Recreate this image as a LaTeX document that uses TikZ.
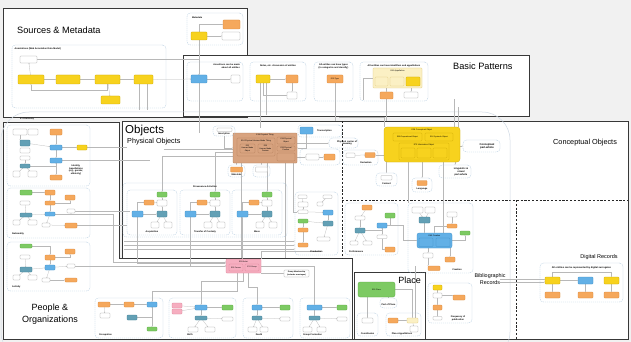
\documentclass[tikz,border=0pt]{standalone}
\usepackage{fontspec}
\setmainfont{Liberation Sans}
\usetikzlibrary{arrows.meta}
\pgfdeclarelayer{back}
\pgfdeclarelayer{lines}
\pgfsetlayers{back,lines,main}
\definecolor{cyel}{HTML}{F7D21E}\definecolor{cyelb}{HTML}{C9A400}
\definecolor{corg}{HTML}{F5A85C}\definecolor{corgb}{HTML}{D88738}
\definecolor{cblu}{HTML}{62B0E6}\definecolor{cblub}{HTML}{3C8CC4}
\definecolor{cteal}{HTML}{63A0B5}\definecolor{ctealb}{HTML}{437F93}
\definecolor{cgrn}{HTML}{7DCA63}\definecolor{cgrnb}{HTML}{58A641}
\definecolor{cpnk}{HTML}{F6AEC0}\definecolor{cpnkb}{HTML}{DB7F97}
\definecolor{cbrn}{HTML}{D8A37F}\definecolor{cbrnb}{HTML}{B07A55}
\definecolor{clyel}{HTML}{FBF0C4}\definecolor{clyelb}{HTML}{DCC575}
\definecolor{cwhb}{HTML}{9C9C9C}
\definecolor{cgrp}{HTML}{A5C2DA}
\definecolor{cframe}{HTML}{383838}
\definecolor{cline}{HTML}{B8B8B8}
\definecolor{cbg}{HTML}{F1F1F1}
\definecolor{ce1}{HTML}{D0DAE5}
\newcommand\mybox[8][]{\node[#2,minimum width={(#6)-(#4)},minimum height={(#7)-(#5)},#1] (#3) at ({((#4)+(#6))/2},{((#5)+(#7))/2}) {#8};}
\begin{document}
\begin{tikzpicture}[x=1pt,y=-1pt,
 bx/.style={rectangle,inner sep=0pt,outer sep=0pt,rounded corners=0.7pt,line width=0.25pt,font=\fontsize{1.9}{2.2}\selectfont,align=center},
 yb/.style={bx,fill=cyel,draw=cyelb},
 ob/.style={bx,fill=corg,draw=corgb},
 bb/.style={bx,fill=cblu,draw=cblub},
 tb/.style={bx,fill=cteal,draw=ctealb},
 gb/.style={bx,fill=cgrn,draw=cgrnb},
 pb/.style={bx,fill=cpnk,draw=cpnkb},
 brb/.style={bx,fill=cbrn,draw=cbrnb},
 lyb/.style={bx,fill=clyel,draw=clyelb},
 wb/.style={bx,fill=white,draw=cwhb},
 grp/.style={rectangle,inner sep=0pt,draw=cgrp,line width=0.3pt,dash pattern=on 1.2pt off 0.8pt,rounded corners=3.5pt},
 glab/.style={inner sep=0pt,font=\fontsize{2.3}{2.7}\selectfont\bfseries,align=center},
 btxt/.style={inner sep=0pt,font=\fontsize{2}{2.3}\selectfont,align=center},
 frame/.style={draw=cframe,line width=0.9pt,fill=white},
 divd/.style={draw=black!85,line width=0.8pt,dash pattern=on 2.2pt off 1.6pt},
 cn/.style={draw=cline,line width=0.25pt,-{Stealth[length=1.1pt,width=0.9pt]}},
 cnl/.style={draw=cline,line width=0.25pt},
 ttl/.style={inner sep=0pt,anchor=west}
]
\useasboundingbox (0,0) rectangle (631,342);
\begin{pgfonlayer}{back}
\fill[cbg] (0,0) rectangle (631,342);
\draw[frame] (3,8) rectangle (247,117);
\draw[frame] (183,55) rectangle (529,116);
\draw[frame] (122,121) rectangle (628,339);
\draw[frame] (3,122) -- (119.5,122) -- (119.5,258) -- (352,258) -- (352,339) -- (3,339) -- cycle;
\draw[frame] (354.5,272) rectangle (425,339);
\draw[divd] (342,121) -- (342,258);
\draw[divd] (342,200) -- (628,200);
\draw[divd] (516,200) -- (516,339);
\draw[draw=ce1,line width=0.5pt,rounded corners=28pt] (1,112) -- (510,112) -- (510,360) -- (1,360) -- cycle;
\end{pgfonlayer}

% ---------- titles ----------
\node[ttl,font=\fontsize{9.2}{11}\selectfont] (tSM) at (17,30) {Sources \& Metadata};
\node[ttl,font=\fontsize{9.2}{11}\selectfont] (tBP) at (453,66) {Basic Patterns};
\node[ttl,font=\fontsize{11.5}{13}\selectfont] (tOb) at (125,131) {Objects};
\node[ttl,font=\fontsize{7.2}{9}\selectfont] (tPO) at (127,141.5) {Physical Objects};
\node[ttl,font=\fontsize{7.3}{9}\selectfont] (tCO) at (553,143) {Conceptual Objects};
\node[inner sep=0pt,font=\fontsize{5.4}{6.6}\selectfont,align=center] (tBR) at (490,279) {Bibliographic\\Records};
\node[inner sep=0pt,font=\fontsize{5.5}{7}\selectfont] (tDR) at (599,257) {Digital Records};
\node[inner sep=0pt,font=\fontsize{9}{9}\selectfont] (tPl) at (409.5,280) {Place};
\node[inner sep=0pt,font=\fontsize{9}{11.5}\selectfont,align=center] (tPO2) at (50,314) {People \&\\Organizations};
\node[ttl,font=\fontsize{2}{2.3}\selectfont\bfseries] (tE1) at (20,118.5) {E1 CRM Entity};

% ---------- Sources & Metadata ----------
\mybox{grp}{gAnn}{12}{45}{166}{108}{}
\node[glab,anchor=west] (lAnn) at (14.5,49) {Annotations (Web Annotation Data Model)};
\mybox{wb}{aW1}{20}{56}{37}{63}{}
\mybox{yb}{aY1}{18}{75}{44}{84}{}
\mybox{yb}{aY2}{56}{75}{80}{84}{}
\mybox{yb}{aY3}{95}{75}{120}{84}{}
\mybox{yb}{aY4}{134}{75}{153}{84}{}
\mybox{yb}{aY5}{101}{96}{120}{104}{}
\mybox{grp}{gMeta}{187}{13}{243}{45}{}
\node[glab,anchor=west] (lMeta) at (192,17.5) {Metadata};
\mybox{ob}{mO}{223}{20}{240}{29}{}
\mybox{wb}{mW}{222}{32}{240}{40}{}
\mybox{yb}{mY}{191}{32}{207}{40}{}

% ---------- Basic Patterns ----------
\mybox{grp}{gA}{187}{62}{243}{101}{}
\node[glab,anchor=north east,align=right] (lA) at (240,63.5) {Assertions can be made\\about all entities};
\mybox{bb}{bA1}{191}{75}{207}{83}{}
\mybox{wb}{bA2}{231}{75}{240}{83}{}
\mybox{grp}{gB}{250}{62}{306}{101}{}
\node[glab] (lB) at (278,65.5) {Notes, etc. discussion of entities};
\mybox{yb}{bB1}{256}{75}{270}{83}{}
\mybox{ob}{bB2}{286}{75}{298}{83}{}
\mybox{wb}{bB3}{287}{92}{297}{99}{}
\mybox{grp}{gC}{314}{62}{353}{101}{}
\node[glab] (lC) at (333.5,66.5) {All entities can have types\\(to categorize and classify)};
\mybox{ob}{bC1}{327}{75}{343}{83}{E55 Type}
\mybox{grp}{gD}{360}{62}{428}{101}{}
\node[glab] (lD) at (394,65.5) {All entities can have identifiers and appellations};
\mybox{lyb}{bD0}{373}{68}{422}{88}{}
\node[btxt] (bD0t) at (397.5,71) {E41 Appellation};
\mybox{lyb}{bD1}{375}{77}{388}{86}{}
\mybox{lyb}{bD2}{390}{77}{404}{86}{}
\mybox{yb}{bD3}{406}{77}{420}{86}{}
\mybox{ob}{bD4}{380}{92}{393}{99}{}
\mybox{wb}{bD5}{404}{92}{418}{98}{}

% ---------- People: identity ----------
\mybox{grp}{g1}{7}{125}{90}{186}{}
\node[glab] (l1) at (76,170) {Identity,\\Appellations\\(e.g., gender,\\ethnicity)};
\mybox{wb}{p1a}{13}{129}{27}{135}{}
\mybox{wb}{p1b}{28}{129}{38}{135}{}
\mybox{ob}{p1c}{50}{129}{62}{135}{}
\mybox{tb}{p1d}{20}{140}{30}{146}{}
\mybox{wb}{p1e}{20}{148}{30}{153}{}
\mybox{bb}{p1f}{50}{145}{62}{150}{}
\mybox{yb}{p1g}{77}{145}{87}{150}{}
\mybox{wb}{p1i}{20}{156}{30}{160}{}
\mybox{bb}{p1h}{50}{158}{62}{163}{}
\mybox{tb}{p1j}{20}{164}{30}{168}{}
\mybox{wb}{p1l}{13}{171}{20}{177}{}
\mybox{wb}{p1m}{28}{171}{37}{177}{}
\mybox{ob}{p1k}{50}{175}{62}{180}{}
% nationality
\mybox{grp}{g2}{7}{188}{90}{238}{}
\node[glab,anchor=west] (l2) at (12,234) {Nationality};
\mybox{gb}{n1}{20}{190}{32}{195}{}
\mybox{ob}{n2}{45}{190}{55}{195}{}
\mybox{ob}{n3}{45}{201}{55}{205}{}
\mybox{ob}{n4}{65}{195}{75}{200}{}
\mybox{wb}{n5}{20}{201}{30}{205}{}
\mybox{wb}{n6}{67}{209}{75}{213}{}
\mybox{bb}{n7}{45}{212}{55}{216}{}
\mybox{tb}{n8}{20}{213}{32}{217}{}
\mybox{wb}{n9}{13}{220}{20}{225}{}
\mybox{wb}{n10}{28}{220}{37}{225}{}
\mybox{wb}{n11}{42}{223}{50}{227}{}
\mybox{ob}{n12}{65}{223}{77}{228}{}
% activity
\mybox{grp}{g3}{7}{242}{90}{291}{}
\node[glab,anchor=west] (l3) at (12,287) {Activity};
\mybox{gb}{a1}{20}{244}{32}{248}{}
\mybox{wb}{a2}{20}{255}{30}{259}{}
\mybox{ob}{a3}{45}{255}{55}{260}{}
\mybox{ob}{a4}{65}{249}{75}{254}{}
\mybox{bb}{a5}{45}{265}{55}{270}{}
\mybox{tb}{a6}{20}{267}{32}{272}{}
\mybox{wb}{a7}{67}{264}{75}{268}{}
\mybox{wb}{a8}{13}{275}{20}{280}{}
\mybox{wb}{a9}{28}{275}{37}{280}{}
\mybox{wb}{a10}{42}{278}{50}{282}{}
\mybox{ob}{a11}{65}{278}{77}{282}{}

% ---------- People bottom ----------
\mybox{pb}{pA}{226}{259}{261}{273}{}
\node[btxt] (pAt) at (243.5,261.5) {E39 Actor};
\mybox{pb}{pA1}{229}{264}{243}{271}{E21 Person}
\mybox{pb}{pA2}{245}{264}{259}{271}{E74 Group}
\mybox{wb}{gm}{284}{270}{309}{277}{\bfseries Group Membership\\\bfseries (includes marriages)}
\mybox{grp}{gOcc}{95}{298}{163}{338}{}
\node[glab,anchor=west] (lOcc) at (99,334.5) {Occupation};
\mybox{ob}{oc1}{98}{302}{110}{307}{}
\mybox{ob}{oc2}{124}{302}{134}{307}{}
\mybox{bb}{oc3}{147}{302}{157}{307}{}
\mybox{wb}{oc4}{100}{313}{110}{318}{}
\mybox{tb}{oc5}{127}{315}{137}{320}{}
\mybox{gb}{oc6}{147}{327}{157}{331}{}
\mybox{grp}{gBi}{169}{298}{236}{338}{}
\node[glab] (lBi) at (190,334.5) {Birth};
\mybox{pb}{b1}{172}{303}{182}{308}{}
\mybox{pb}{b2}{172}{309}{182}{314}{}
\mybox{bb}{b3}{195}{305}{207}{310}{}
\mybox{gb}{b4}{222}{305}{233}{310}{}
\mybox{tb}{b5}{195}{316}{207}{320}{}
\mybox{wb}{b6}{222}{317}{233}{321}{}
\mybox{wb}{b7}{188}{327}{198}{332}{}
\mybox{wb}{b8}{205}{327}{215}{332}{}
\mybox{grp}{gDe}{243}{298}{293}{338}{}
\node[glab] (lDe) at (259,334.5) {Death};
\mybox{bb}{d1}{252}{305}{262}{310}{}
\mybox{gb}{d2}{280}{305}{290}{310}{}
\mybox{tb}{d3}{252}{316}{262}{320}{}
\mybox{wb}{d4}{280}{317}{290}{321}{}
\mybox{wb}{d5}{248}{327}{257}{332}{}
\mybox{wb}{d6}{260}{327}{268}{332}{}
\mybox{grp}{gGF}{300}{298}{350}{338}{}
\node[glab,anchor=west] (lGF) at (303,334.5) {Group Formation};
\mybox{bb}{f1}{307}{305}{322}{310}{}
\mybox{gb}{f2}{337}{305}{347}{310}{}
\mybox{tb}{f3}{309}{316}{320}{320}{}
\mybox{wb}{f4}{337}{317}{347}{321}{}
\mybox{wb}{f5}{303}{327}{312}{332}{}
\mybox{wb}{f6}{317}{327}{326}{332}{}

% ---------- Physical objects ----------
\mybox{brb}{pT}{233}{133}{297}{163}{}
\node[btxt] (pTt) at (265,135.3) {E18 Physical Thing};
\mybox{brb}{pT1}{237}{138}{275}{156}{}
\node[btxt] (pT1t) at (256,140.5) {E24 Physical Human-Made Thing};
\mybox{brb}{pT1a}{240}{144}{255}{153}{E22\\Human-Made\\Object}
\mybox{brb}{pT1b}{258}{144}{273}{153}{E25\\Human-Made\\Feature}
\mybox{brb}{pT2}{277}{137}{295}{144}{E19 Physical\\Object}
\mybox{brb}{pT3}{277}{146}{295}{151}{E26 Physical\\Feature}
\mybox{brb}{pT4}{277}{153}{295}{161}{}
\mybox{grp}{gMat}{228}{165}{245}{177}{}
\mybox{ob}{mat1}{230.5}{167}{242.5}{172}{}
\node[glab] (lMat) at (236.5,174.6) {Materials};
\mybox{grp}{gPart}{253}{165}{270}{177}{}
\mybox{wb}{part1}{255.5}{167}{267.5}{172}{}
\mybox{grp}{gIns}{213}{126}{235}{136}{}
\mybox{wb}{ins1}{217}{128}{232}{131.5}{}
\node[glab] (lIns) at (224,133.8) {Inscription};
\mybox{grp}{gTr}{298}{125}{342}{137}{}
\mybox{bb}{tr1}{300}{127}{313}{134}{}
\node[glab,anchor=west] (lTr) at (317,130.5) {Transcription};
\mybox{grp}{gPC}{329}{138}{358}{148}{}
\node[glab] (lPC) at (347,143) {Physical carrier of\\meaning};
\mybox{grp}{gPF}{300}{149}{340}{165}{}
\mybox{wb}{pf1}{306}{154}{319}{160}{}
\mybox{ob}{pf2}{324}{154}{335}{160}{}
\mybox{grp}{gProv}{123}{183}{287}{237}{}
\node[glab] (lProv) at (205,186.3) {Provenance Activities};
\foreach \x/\n/\t in {127/A/Acquisition,180/B/Transfer of Custody,232/C/Move}{
 \mybox{grp}{pv\n}{\x}{190}{\x+50}{235}{}
 \node[glab] (pvl\n) at (\x+25,232) {\t};
 \mybox{gb}{pv\n1}{\x+30}{192}{\x+40}{197}{}
 \mybox{ob}{pv\n2}{\x+17}{200}{\x+27}{205}{}
 \mybox{wb}{pv\n3}{\x+30}{200}{\x+40}{206}{}
 \mybox{bb}{pv\n4}{\x+5}{211}{\x+16}{217}{}
 \mybox{tb}{pv\n5}{\x+30}{211}{\x+40}{217}{}
 \mybox{wb}{pv\n6}{\x+24}{222}{\x+32}{228}{}
 \mybox{wb}{pv\n7}{\x+37}{222}{\x+45}{228}{}
 \begin{pgfonlayer}{lines}
 \draw[cn] (pv\n4) -- (pv\n5);
 \draw[cn] (pv\n2) -- (pv\n3);
 \draw[cn] (pv\n5) -- (pv\n3);
 \draw[cn] (pv\n3) -- (pv\n1);
 \draw[cn] (pv\n5) -- (pv\n6);
 \draw[cn] (pv\n5) -- (pv\n7);
 \draw[cn] (pv\n2.west) -| (pv\n4.north);
 \end{pgfonlayer}
}
\mybox{grp}{gProd}{295}{192}{338}{255}{}
\node[glab] (lProd) at (316.5,251.5) {Production};
\mybox{wb}{pr1}{298}{195}{307}{198.5}{}
\mybox{wb}{pr2}{323}{195}{332}{198.5}{}
\mybox{wb}{pr3}{298}{202}{308}{207}{}
\mybox{wb}{pr4}{317}{202}{323}{206}{}
\mybox{wb}{pr5}{298}{210}{308}{213.5}{}
\mybox{bb}{pr6}{323}{210}{333}{215}{}
\mybox{gb}{pr7}{298}{219}{308}{223}{}
\mybox{tb}{pr8}{323}{221}{333}{226}{}
\mybox{ob}{pr9}{298}{228}{308}{232}{}
\mybox{wb}{pr10}{317}{237}{330}{241}{}
\mybox{ob}{pr11}{298}{243}{308}{247}{}

% ---------- Conceptual ----------
\mybox[rounded corners=3pt]{yb}{cY}{384}{127}{460}{162}{}
\node[btxt] (cYt) at (422,129.6) {E28 Conceptual Object};
\mybox{yb}{cY1}{393}{133}{422}{141}{E89 Propositional Object}
\mybox{yb}{cY2}{425}{133}{453}{141}{E90 Symbolic Object}
\mybox{yb}{cY3}{399}{143}{449}{160}{}
\node[btxt] (cY3t) at (424,145.4) {E73 Information Object};
\mybox{yb}{cY3a}{401}{148}{415}{158}{}
\mybox{yb}{cY3b}{417}{148}{431}{158}{}
\mybox{yb}{cY3c}{433}{148}{447}{158}{}
\mybox{grp}{gCPW}{463}{140}{500}{152}{}
\node[glab,font=\fontsize{2.7}{3.1}\selectfont\bfseries] (lCPW) at (487,146) {Conceptual\\part-whole};
\mybox{grp}{gLV}{439}{165}{471}{178}{}
\node[glab,font=\fontsize{2.5}{2.9}\selectfont\bfseries] (lLV) at (461,171.5) {Linguistic \&\\visual\\part-whole};
\mybox{grp}{gCont}{376}{173}{397}{186}{}
\mybox{wb}{co0}{381}{175.5}{392}{180}{}
\node[glab] (lCont) at (386.5,183.3) {Content};
\mybox{grp}{gLang}{412}{178}{432}{192}{}
\mybox{ob}{lg1}{417}{180.5}{427}{185.5}{}
\node[glab] (lLang) at (422,189.3) {Language};
\mybox{grp}{gDer}{343}{150}{378}{165}{}
\mybox{wb}{cd1}{346}{153}{355}{157.5}{}
\mybox{ob}{cd2}{365}{152.5}{375}{157.5}{}
\node[glab] (lDer) at (366,162.3) {Derivation};

% ---------- Bibliographic ----------
\mybox{grp}{gPerf}{345}{203}{398}{255}{}
\node[glab,anchor=west] (lPerf) at (349,252) {Performance};
\mybox{ob}{e1}{362}{205}{372}{210}{}
\mybox{wb}{e2}{355}{216}{365}{220}{}
\mybox{gb}{e3}{385}{213}{395}{218}{}
\mybox{bb}{e4}{377}{223}{387}{228}{}
\mybox{tb}{e5}{355}{228}{365}{233}{}
\mybox{wb}{e6}{377}{235}{387}{238.5}{}
\mybox{wb}{e7}{350}{241}{358}{245}{}
\mybox{wb}{e8}{363}{241}{372}{245}{}
\mybox{ob}{e9}{385}{247}{395}{252}{}
\mybox{grp}{gCre}{408}{203}{473}{273}{}
\node[glab] (lCre) at (457,270) {Creation};
\mybox{wb}{c1}{412}{207}{423}{213}{}
\mybox{wb}{c2}{425}{207}{435}{213}{}
\mybox{wb}{c3}{447}{212}{457}{217}{}
\mybox{tb}{c4}{419}{217}{430}{223}{}
\mybox{ob}{c5}{447}{224}{457}{228}{}
\mybox{gb}{c6}{460}{231}{470}{235}{}
\mybox[rounded corners=2pt]{bb}{bCr}{417}{233}{452}{248}{}
\node[btxt] (bCrt) at (434.5,235.4) {E65 Creation};
\mybox{bb}{bCr1}{419}{238}{433}{246.5}{}
\mybox{bb}{bCr2}{436}{238}{450}{246.5}{}
\mybox{wb}{c7}{423}{253}{433}{258}{}
\mybox{ob}{c8}{445}{257}{455}{262}{}
\mybox{ob}{c9}{428}{266}{440}{270.5}{}
\mybox{grp}{gFreq}{428}{283}{472}{323}{}
\node[glab] (lFreq) at (458,318.5) {Frequency of\\publication};
\mybox{yb}{q1}{433}{285}{442}{290}{}
\mybox{wb}{q2}{433}{293}{442}{298}{}
\mybox{ob}{q3}{453}{295}{465}{300}{}
\mybox{ob}{q4}{433}{305}{442}{310}{}
\mybox{wb}{q5}{433}{316.5}{442}{320}{}

% ---------- Place ----------
\mybox[rounded corners=2pt]{gb}{pl}{358}{282}{395}{297}{E53 Place}
\mybox{grp}{gPoP}{380}{298}{397}{308}{}
\node[glab] (lPoP) at (388.5,305) {Part of Place};
\mybox{grp}{gCoord}{357}{313}{378}{336}{}
\mybox{wb}{co1}{362}{318}{373}{323}{}
\node[glab] (lCoord) at (367.5,333.3) {Coordinates};
\mybox{grp}{gPA}{386}{313}{421}{336}{}
\mybox{ob}{pa1}{388}{318}{398}{323}{}
\mybox{lyb}{pa2}{407}{318}{418}{323}{}
\mybox{wb}{pa3}{410}{326}{418}{332}{}
\node[glab] (lPA) at (402,333.8) {Place Appellations};

% ---------- Digital ----------
\mybox{grp}{gDig}{540}{263}{623}{302}{}
\node[glab,font=\fontsize{2.4}{2.8}\selectfont\bfseries] (lDig) at (581.5,268) {All entities can be represented by digital surrogates};
\mybox{yb}{dY1}{545}{277}{560}{284}{}
\mybox{bb}{dB}{578}{277}{593}{284}{}
\mybox{yb}{dY2}{604}{277}{619}{284}{}
\mybox{ob}{dO1}{545}{292}{560}{298}{}
\mybox{ob}{dO2}{578}{292}{593}{298}{}
\mybox{ob}{dO3}{604}{292}{619}{298}{}

\coordinate (kN) at (113,262);
\coordinate (kD1) at (500,279.5);
\coordinate (kD2) at (500,282);
\coordinate (kL1) at (124,241);
\coordinate (kL2) at (124,245);
\coordinate (kL3) at (124,249);

% ---------- connectors ----------
\begin{pgfonlayer}{lines}
\draw[cn] (aY1) -- (aY2);
\draw[cn] (aY2) -- (aY3);
\draw[cn] (aY3) -- (aY4);
\draw[cn] (aY4) -- (bA1);
\draw[cn] (aY3) -- (aY5);
\draw[cn] (aY1) -- (aW1);
\draw[cn] (aY3.south) -- ++(0,6) -| (aY1.south);
\draw[cn] (aW1.east) -| (bA1.north);
\draw[cnl] ([xshift=-4pt]aY4.south) -- ++(0,26);
\draw[cnl] ([xshift=4pt]aY4.south) -- ++(0,26);
\draw[cn] (mY) -- (mW);
\draw[cn] (mY.north) |- (mO.west);
\draw[cn] (mY.south) -- (bA1.north);
\draw[cn] (bA1) -- (bA2);
\draw[cn] (bB1) -- (bB2);
\draw[cn] (bB1.south) |- (bB3.west);
\draw[cn] (bB2) -- (bB3);
\draw[cn] (bD0.south -| bD4.north) -- (bD4.north);
\draw[cn] (bD0.south -| bD5.north) -- (bD5.north);
\draw[cnl] (bA1.south) -- ++(0,50);
\draw[cnl] ([xshift=-3pt]bB1.south) -- ++(0,45);
\draw[cnl] ([xshift=3pt]bB1.south) -- ++(0,32);
\draw[cnl] (bC1.south) -- ++(0,38);
\draw[cnl] (bD4.south) -- ++(0,22);
\draw[cnl] (bD0.west) -- ++(-10,0) |- ++(0,22);
\draw[cnl] ([xshift=-6pt]cY.north east) -- ++(0,-28);
\draw[cnl] ([xshift=-2pt]cY.north east) -- ++(0,-20);
% identity
\draw[cn] (p1a.south) -- (p1a.south |- p1d.north);
\draw[cn] (p1d) -- (p1f);
\draw[cn] (p1f) -- (p1g);
\draw[cn] (p1c) -- (p1f);
\draw[cn] (p1f) -- (p1h);
\draw[cn] (p1j.east) -| (p1h.south);
\draw[cn] (p1h) -- (p1k);
\draw[cn] (p1i) -- (p1j);
\draw[cn] (p1j) -- (p1l);
\draw[cn] (p1j) -- (p1m);
\draw[cnl] (p1h.east) -- ++(88,0);
\draw[cnl] (p1g.east) -- ++(40,0);
% nationality
\draw[cn] (n1) -- (n2);
\draw[cn] (n2) -- (n3);
\draw[cn] (n3) -- (n7);
\draw[cn] (n8) -- (n7);
\draw[cn] (n5) -- (n8);
\draw[cn] (n3.east) -| (n4.south);
\draw[cn] (n7.east) -| (n6.south);
\draw[cn] (n7) -- (n11);
\draw[cn] (n11) -- (n12);
\draw[cn] (n8) -- (n9);
\draw[cn] (n8) -- (n10);
\draw[cn] (n7.east) -| (kN) -- (kN -| pA.west);
\draw[cnl] (n6.east) -- ++(55,0);
\draw[cnl] (n12.east) -- ++(50,0);
% activity
\draw[cn] (a1.east) -| (a3.north);
\draw[cn] (a3) -- (a5);
\draw[cn] (a3.east) -| (a4.south);
\draw[cn] (a6) -- (a5);
\draw[cn] (a2) -- (a6);
\draw[cn] (a5) -- (a7);
\draw[cn] (a5) -- (a10);
\draw[cn] (a10) -- (a11);
\draw[cn] (a6) -- (a8);
\draw[cn] (a6) -- (a9);
\draw[cn] (a7.east) -- (a7.east -| pA.west);
% bottom people
\draw[cn] (oc1) -- (oc2);
\draw[cn] (oc2) -- (oc3);
\draw[cn] (oc5.east) -| (oc3.south);
\draw[cn] (oc3) -- (oc6);
\draw[cn] (oc1) -- (oc4);
\draw[cn] (b1) -- (b3);
\draw[cn] (b2) -- (b3);
\draw[cn] (b3) -- (b4);
\draw[cn] (b3) -- (b5);
\draw[cn] (b5) -- (b6);
\draw[cn] (b5) -- (b7);
\draw[cn] (b5) -- (b8);
\draw[cn] (d1) -- (d2);
\draw[cn] (d1) -- (d3);
\draw[cn] (d3) -- (d4);
\draw[cn] (d3) -- (d5);
\draw[cn] (d3) -- (d6);
\draw[cn] (f1) -- (f2);
\draw[cn] (f1) -- (f3);
\draw[cn] (f3) -- (f4);
\draw[cn] (f3) -- (f5);
\draw[cn] (f3) -- (f6);
\draw[cn] (pA.south) -- ++(0,8) -| (b3.north);
\draw[cn] ([xshift=5pt]pA.south) -- ++(0,14) -| (d1.north);
\draw[cn] (pA.east) -| (f1.north);
\draw[cn] ([xshift=-6pt]pA.south) -- ++(0,18) -| (oc3.north);
\draw[cn] (pA.south east) |- (gm.west);
\draw[cn] (pA.north -| pvC4.south) -- (pvC4.south);
\draw[cn] (pvB4.south) |- (pA.west);
\draw[cn] (pvA4.south) |- ([yshift=3pt]pA.west);
\draw[cnl] (pA.north east) -- ++(0,-8) -- ++(60,0);
% physical
\draw[cn] (pT.south -| gMat.north) -- (gMat.north);
\draw[cn] (pT.south -| gPart.north) -- (gPart.north);
\draw[cn] (gIns.south) |- (pT.west);
\draw[cn] (tr1.south) |- (pT.east);
\draw[cn] (pT.east |- gPC.west) -- (gPC.west);
\draw[cn] (pT.east |- pf1.west) -- (pf1.west);
\draw[cn] (pf1) -- (pf2);
\draw[cn] (pT.south -| pvC1.north) -- (pvC1.north);
\draw[cn] ([yshift=-4pt]pT.west) -| (pvB1.north);
\draw[cn] ([yshift=-8pt]pT.west) -| (pvA1.north);
\draw[cn] ([xshift=-4pt]pT.south east) |- (pr5.west);
\draw[cnl] (tPO.south) ++(10,4) -- ++(85,0);
\draw[cn] (kL1) -- (kL1 -| gProd.west);
\draw[cn] (kL2) -- (kL2 -| gProd.west);
\draw[cn] (kL3) -- (kL3 -| gProd.west);
\draw[cnl] ([xshift=8pt]pT.south west) -- ++(0,95);
\draw[cnl] ([xshift=-12pt]pT.south east) -- ++(0,95);
\draw[cn] (pr1) -- (pr3);
\draw[cn] (pr3) -- (pr5);
\draw[cn] (pr5) -- (pr6);
\draw[cn] (pr2) -- (pr4);
\draw[cn] (pr6) -- (pr8);
\draw[cn] (pr7) -- (pr8);
\draw[cn] (pr8) -- (pr10);
\draw[cn] (pr9) -- (pr11);
\draw[cn] (pr7) -- (pr9);
% conceptual
\draw[cn] (cd1) -- (cd2);
\draw[cn] (cY.south -| gCont.north) -- (gCont.north);
\draw[cn] (cY.south -| gLang.north) -- (gLang.north);
\draw[cn] (cY.east |- gCPW.west) -- (gCPW.west);
\draw[cn] (cY.south -| gLV.north) -- (gLV.north);
\draw[cn] (cY.west |- cd2.east) -- (cd2.east);
\draw[cnl] (cY3a.south) -- ++(0,45);
\draw[cnl] (cY.south -| bCr2.north) -- (bCr2.north);
\draw[cnl] (cY.north west) -- ++(0,-10) -- ++(-45,0);
% bibliographic
\draw[cn] (e1) -- (e2);
\draw[cn] (e2) -- (e5);
\draw[cn] (e5.east) -| (e4.south);
\draw[cn] (e3.south) |- (e4.east);
\draw[cn] (e4) -- (e6);
\draw[cn] (e6.south) |- (e9.west);
\draw[cn] (e5) -- (e7);
\draw[cn] (e5) -- (e8);
\draw[cn] (e4.east) -- ++(16,0) |- (bCr.west);
\draw[cn] (c1) -- (c4);
\draw[cn] (c2) -- (c4);
\draw[cn] (c4.south) -- (c4.south |- bCr.north);
\draw[cn] (c3) -- (c5);
\draw[cn] (c5.west) -| (bCr.north);
\draw[cn] (bCr.east) -| (c6.south);
\draw[cn] (bCr.south -| c7.north) -- (c7.north);
\draw[cn] (c7.south) -- (c7.south |- c9.north);
\draw[cn] (bCr.south -| c8.north) -- (c8.north);
\draw[cn] (q1) -- (q2);
\draw[cn] (q2) -- (q4);
\draw[cn] (q4) -- (q5);
\draw[cn] (q2.east) -- (q2.east -| q3.west);
% place
\draw[cn] (pl.south -| co1.north) -- (co1.north);
\draw[cn] (pl.south -| gPoP.north) -- (gPoP.north);
\draw[cn] (pa1) -- (pa2);
\draw[cn] (pa2) -- (pa3);
\draw[cn] (pl.east) -| (pa2.north);
\draw[cnl] ([xshift=3pt]pa2.north) -- ++(0,-52);
% digital
\draw[cn] (dY1) -- (dB);
\draw[cn] (dY1) -- (dO1);
\draw[cn] (dB) -- (dO2);
\draw[cn] (dY2) -- (dO3);
\draw[cn] (dY1.north) -- ++(0,-5) -| (dY2.north);
\draw[cn] (kD1) -- (kD1 -| dY1.west);
\draw[cn] (kD2) -- (kD2 -| dY1.west);
\end{pgfonlayer}
\end{tikzpicture}
\end{document}
